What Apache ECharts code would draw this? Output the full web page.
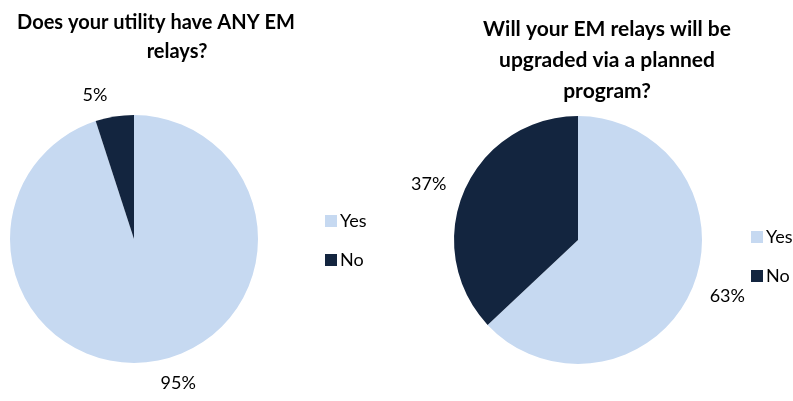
<!DOCTYPE html>
<html>
<head>
<meta charset="utf-8">
<script src="https://cdn.jsdelivr.net/npm/echarts@6/dist/echarts.min.js"></script>
<style>
  html, body { margin: 0; padding: 0; background: #fff; }
  #chart { width: 793px; height: 401px; }
</style>
</head>
<body>
<div id="chart"></div>
<script>
// Survey answers, in percent
const categories = ['Yes', 'No'];
const anyRelaysValues = [95, 5];
const upgradeValues = [63, 37];
const leftTitleLines = ['Does your utility have ANY EM', 'relays?'];
const rightTitle = 'Will your EM relays will be\nupgraded via a planned\nprogram?';
const colors = ['#C6D9F1', '#13253F'];
const font = 'Lato, "Liberation Sans", sans-serif';

function toData(values) {
  return categories.map((name, i) => ({ name: name, value: values[i] }));
}

// Push labels near the top/bottom of a pie a little further out vertically.
function verticalNudge(values, k) {
  const total = values.reduce((a, b) => a + b, 0);
  return function (params) {
    let before = 0;
    for (let i = 0; i < params.dataIndex; i++) before += values[i];
    const mid = (90 - (before + values[params.dataIndex] / 2) / total * 360) * Math.PI / 180;
    const s = Math.sin(mid);
    return { dy: -s * Math.abs(s) * k };
  };
}

function pieSeries(values, center) {
  return {
    type: 'pie',
    radius: 124,
    center: center,
    startAngle: 90,
    clockwise: true,
    silent: true,
    avoidLabelOverlap: false,
    data: toData(values),
    label: {
      show: true,
      position: 'outside',
      formatter: '{c}%',
      color: '#000',
      fontFamily: font,
      fontSize: 18
    },
    labelLine: { show: false, length: 14, length2: 0 },
    labelLayout: verticalNudge(values, 8),
    itemStyle: { borderWidth: 0 }
  };
}

const titleText = { fontFamily: font, fontWeight: 'bold', fontSize: 20, lineHeight: 29, color: '#000' };
const legendText = { fontFamily: font, fontSize: 18, color: '#000', padding: [0, 0, 0, -2] };

const chart = echarts.init(document.getElementById('chart'), null, { renderer: 'canvas' });
chart.setOption({
  animation: false,
  color: colors,
  title: [
    { text: leftTitleLines[0], left: 151, top: 3, textAlign: 'center', textStyle: titleText },
    { text: leftTitleLines[1], left: 172, top: 32, textAlign: 'center', textStyle: titleText },
    {
      text: rightTitle, left: 602, top: 9, textAlign: 'center',
      textStyle: Object.assign({}, titleText, { fontSize: 21, lineHeight: 31 })
    }
  ],
  legend: [
    {
      data: categories, orient: 'vertical', left: 320, top: 207,
      itemWidth: 12, itemHeight: 12, itemGap: 21, icon: 'rect',
      selectedMode: false, textStyle: legendText
    },
    {
      data: categories, orient: 'vertical', left: 746, top: 223,
      itemWidth: 12, itemHeight: 12, itemGap: 21, icon: 'rect',
      selectedMode: false, textStyle: legendText
    }
  ],
  series: [
    pieSeries(anyRelaysValues, [134, 239]),
    pieSeries(upgradeValues, [578, 240])
  ]
});
</script>
</body>
</html>
